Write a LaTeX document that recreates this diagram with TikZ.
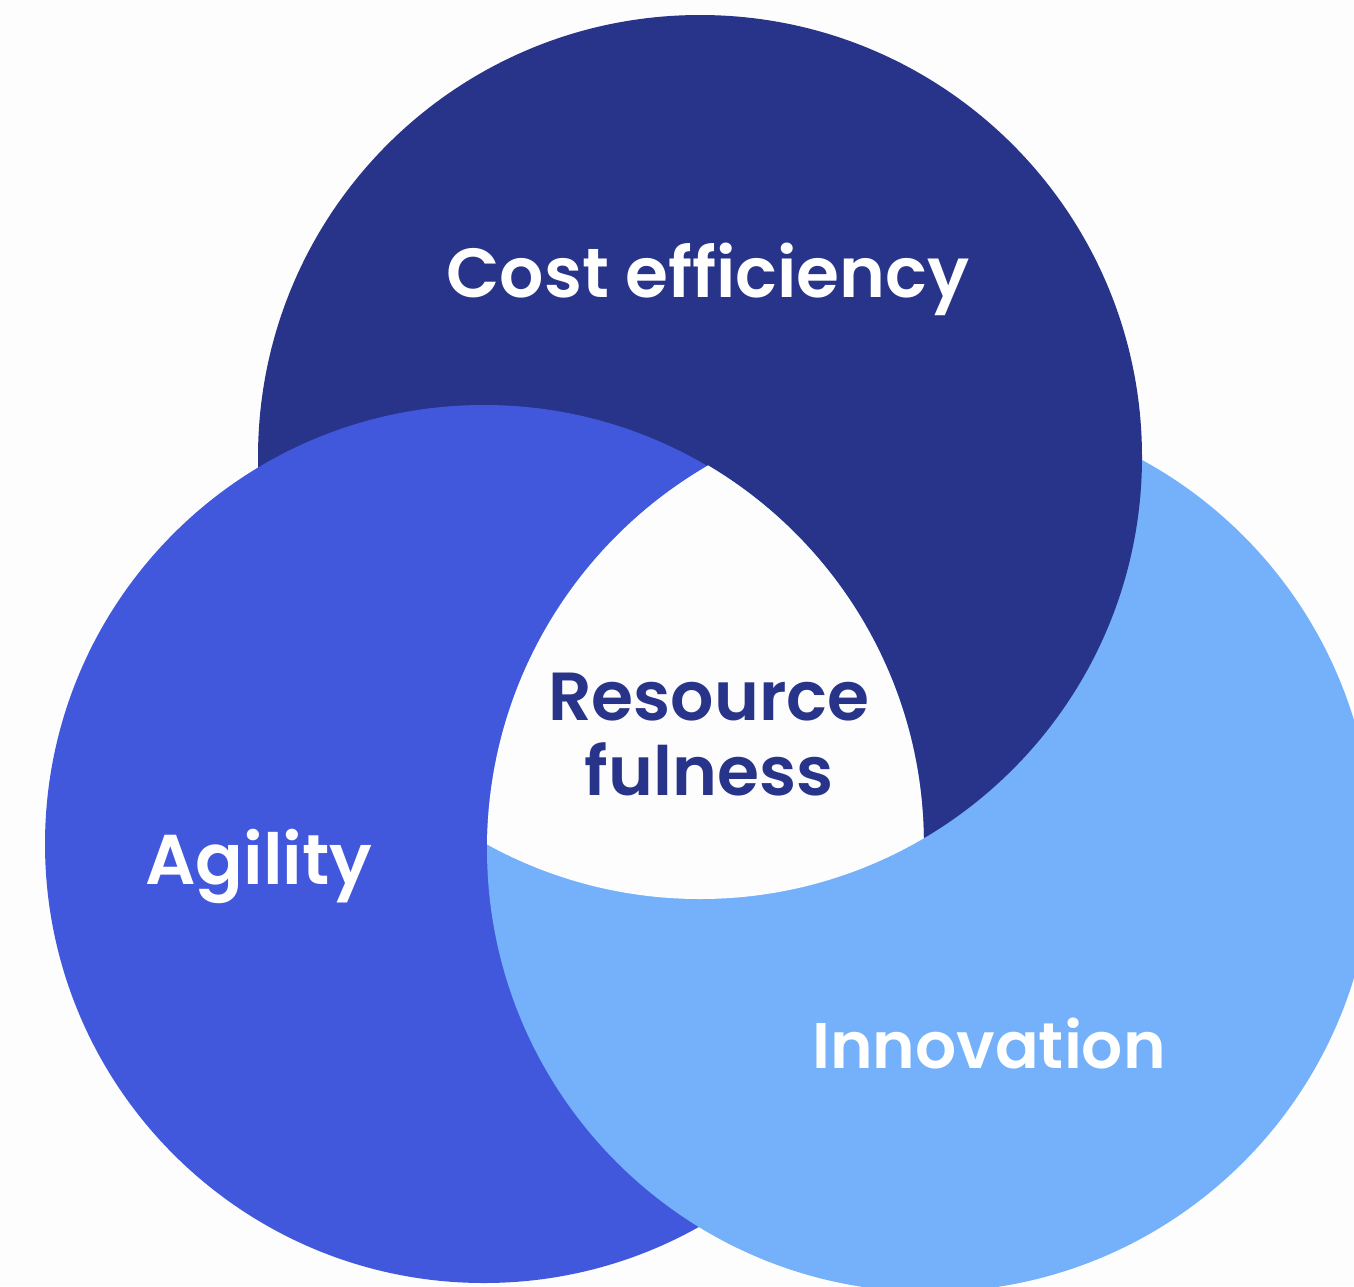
\documentclass[tikz,border=0pt]{standalone}
\usepackage{fontspec}
\setmainfont{Poppins}[BoldFont={Poppins SemiBold}]

\definecolor{navy}{HTML}{283489}
\definecolor{royal}{HTML}{4158DD}
\definecolor{sky}{HTML}{74B1FA}
\definecolor{paper}{HTML}{FDFDFE}

\tikzset{
    circlelabel/.style={font=\bfseries\fontsize{#1}{#1}\selectfont, text=white, inner sep=0pt, anchor=base},
    centrelabel/.style={font=\bfseries\fontsize{#1}{75}\selectfont, text=navy, inner sep=0pt, align=center},
}

\begin{document}
\begin{tikzpicture}[x=1pt,y=1pt,yscale=-1]
    % page
    \fill[paper] (0,0) rectangle (1354,1286);
    \useasboundingbox (0,0) rectangle (1354,1286);
    \clip (0,0) rectangle (1354,1286);

    % circle centres
    \coordinate (cost) at (700,457);
    \coordinate (agility) at (484,844);
    \coordinate (innov) at (930,849);

    % the three discs, each one lying over the next
    \fill[sky] (innov) circle (443);
    \fill[navy] (cost) circle (442);
    \fill[royal] (agility) circle (439);
    \begin{scope}
        \clip (agility) circle (439.8); % a bit wider, hides the seam
        \fill[sky] (innov) circle (443);
        % common part of all three
        \clip (cost) circle (442);
        \fill[paper] (innov) circle (443);
    \end{scope}

    % labels
    \node[circlelabel=69.5] (costlbl) at (708,297) {Cost efficiency};
    \node[circlelabel=70.5] (agilitylbl) at (259,884) {Agility};
    \node[circlelabel=64.5] (innovlbl) at (989,1068) {Innovation};
    \node[centrelabel=68] (resource) at (709,735) {Resource\\fulness};
\end{tikzpicture}
\end{document}
